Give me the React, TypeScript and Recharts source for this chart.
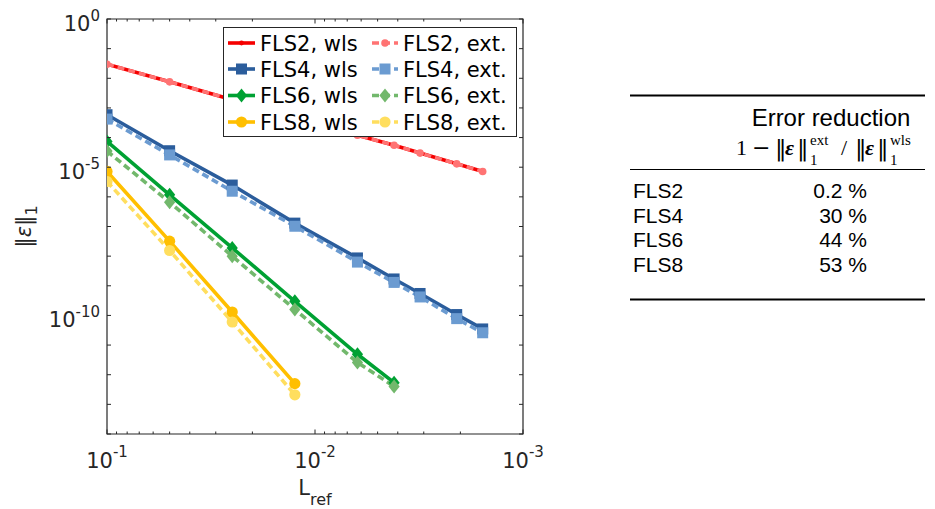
import { LineChart, Line, XAxis, YAxis, ReferenceArea, Legend } from 'recharts';

// reference lengths (grid spacing), shared by every series
const L_REF = [1 / 10, 1 / 20, 1 / 40, 1 / 80, 1 / 160, 1 / 240, 1 / 320, 1 / 480, 1 / 640];

// L1 error norms, wls = weighted least squares, ext = extended stencil
const FLS2_WLS = [3.0e-2, 7.6e-3, 1.9e-3, 4.8e-4, 1.2e-4, 5.5e-5, 3.0e-5, 1.3e-5, 7.2e-6];
const FLS2_EXT = [2.99e-2, 7.58e-3, 1.9e-3, 4.79e-4, 1.2e-4, 5.49e-5, 2.99e-5, 1.3e-5, 7.19e-6];
const FLS4_WLS = [5.9e-4, 3.6e-5, 2.5e-6, 1.3e-7, 8.7e-9, 1.7e-9, 5.5e-10, 1.07e-10, 3.5e-11];
const FLS4_EXT = [4.2e-4, 2.6e-5, 1.55e-6, 1.02e-7, 6.3e-9, 1.3e-9, 4.2e-10, 7.8e-11, 2.6e-11];
const FLS6_WLS = [7.4e-5, 1.17e-6, 1.9e-8, 3.0e-10, 4.9e-12, 5.4e-13];
const FLS6_EXT = [3.5e-5, 6.6e-7, 1.0e-8, 1.6e-10, 2.6e-12, 4.0e-13];
const FLS8_WLS = [7.2e-6, 3.2e-8, 1.3e-10, 5.0e-13];
const FLS8_EXT = [3.3e-6, 1.55e-8, 6.0e-11, 2.1e-13];

const X_MAJOR = [1e-1, 1e-2, 1e-3];
const X_TICKS = [
  1e-1, 0.09, 0.08, 0.07, 0.06, 0.05, 0.04, 0.03, 0.02,
  1e-2, 0.009, 0.008, 0.007, 0.006, 0.005, 0.004, 0.003, 0.002,
  1e-3,
];
const Y_TICKS = [1, 1e-1, 1e-2, 1e-3, 1e-4, 1e-5, 1e-6, 1e-7, 1e-8, 1e-9, 1e-10, 1e-11, 1e-12, 1e-13, 1e-14];
const Y_LABELED = [1, 1e-5, 1e-10];

// summary table
const METHODS = ['FLS2', 'FLS4', 'FLS6', 'FLS8'];
const REDUCTION = ['0.2 %', '30 %', '44 %', '53 %'];

const W = 560;
const H = 509;
const M_TOP = 19;
const M_RIGHT = 37;
const Y_AXIS_W = 107;
const X_AXIS_H = 75;
const PLOT_TOP = M_TOP;
const PLOT_BOTTOM = H - X_AXIS_H;
const PLOT_LEFT = Y_AXIS_W;
const PLOT_RIGHT = W - M_RIGHT;

const AXIS = '#262626';
const FONT = '"DejaVu Sans", sans-serif';
const LINE_W = 3.6;
const DASH = '7 4';

type Shape = 'point' | 'circle' | 'square' | 'diamond';

const Marker = ({ cx, cy, shape, color, small }: { cx: number; cy: number; shape: Shape; color: string; small?: boolean }) => {
  if (cx == null || cy == null) return null;
  if (shape === 'point') return <circle cx={cx} cy={cy} r={2.4} fill={color} />;
  if (shape === 'circle') return <circle cx={cx} cy={cy} r={small ? 3.8 : 5.6} fill={color} />;
  if (shape === 'square') return <rect x={cx - 5.5} y={cy - 5.5} width={11} height={11} fill={color} />;
  return <polygon points={`${cx},${cy - 7} ${cx + 5.6},${cy} ${cx},${cy + 7} ${cx - 5.6},${cy}`} fill={color} />;
};

const SERIES = [
  { name: 'FLS2, wls', values: FLS2_WLS, color: '#f50000', dash: undefined, shape: 'point' as Shape },
  { name: 'FLS2, ext.', values: FLS2_EXT, color: '#ff7373', dash: DASH, shape: 'circle' as Shape, small: true },
  { name: 'FLS4, wls', values: FLS4_WLS, color: '#2b5d9c', dash: undefined, shape: 'square' as Shape },
  { name: 'FLS4, ext.', values: FLS4_EXT, color: '#6b9bd1', dash: DASH, shape: 'square' as Shape },
  { name: 'FLS6, wls', values: FLS6_WLS, color: '#00a133', dash: undefined, shape: 'diamond' as Shape },
  { name: 'FLS6, ext.', values: FLS6_EXT, color: '#72b86c', dash: DASH, shape: 'diamond' as Shape },
  { name: 'FLS8, wls', values: FLS8_WLS, color: '#ffbf00', dash: undefined, shape: 'circle' as Shape },
  { name: 'FLS8, ext.', values: FLS8_EXT, color: '#ffde5e', dash: DASH, shape: 'circle' as Shape },
];

const seriesData = (values: number[]) => values.map((v, i) => ({ L: L_REF[i], err: v }));

const XTick = (props: any) => {
  const { x, payload } = props;
  const v = payload.value;
  const major = X_MAJOR.includes(v);
  const len = major ? 4.5 : 2.5;
  return (
    <g>
      <line x1={x} x2={x} y1={PLOT_BOTTOM} y2={PLOT_BOTTOM - len} stroke={AXIS} />
      <line x1={x} x2={x} y1={PLOT_TOP} y2={PLOT_TOP + len} stroke={AXIS} />
      {major && (
        <text x={x} y={468} textAnchor="middle" fontFamily={FONT} fontSize={21} fill={AXIS}>
          10
          <tspan dy={-11} fontSize={15}>{Math.round(Math.log10(v))}</tspan>
        </text>
      )}
    </g>
  );
};

const YTick = (props: any) => {
  const { y, payload } = props;
  const v = payload.value;
  return (
    <g>
      <line x1={PLOT_LEFT} x2={PLOT_LEFT + 4} y1={y} y2={y} stroke={AXIS} />
      <line x1={PLOT_RIGHT} x2={PLOT_RIGHT - 4} y1={y} y2={y} stroke={AXIS} />
      {Y_LABELED.includes(v) && (
        <text x={100} y={y + 12} textAnchor="end" fontFamily={FONT} fontSize={21} fill={AXIS}>
          10
          <tspan dy={-10} fontSize={15}>{Math.round(Math.log10(v))}</tspan>
        </text>
      )}
    </g>
  );
};

const XTitle = (props: any) => {
  const vb = props.viewBox || { x: PLOT_LEFT, y: PLOT_BOTTOM, width: PLOT_RIGHT - PLOT_LEFT };
  return (
    <text x={vb.x + vb.width / 2} y={vb.y + 61} textAnchor="middle" fontFamily={FONT} fontSize={21} fill={AXIS}>
      L<tspan dy={10} fontSize={16}>ref</tspan>
    </text>
  );
};

const YTitle = (props: any) => {
  const vb = props.viewBox || { y: PLOT_TOP, height: PLOT_BOTTOM - PLOT_TOP };
  const cy = vb.y + vb.height / 2;
  return (
    <text x={31} y={cy} transform={`rotate(-90 31 ${cy})`} textAnchor="middle" fontFamily={FONT} fontSize={21} fill={AXIS}>
      ‖<tspan fontStyle="italic">ε</tspan>‖<tspan dy={6} fontSize={16}>1</tspan>
    </text>
  );
};

const LegendBox = () => {
  const rows = [16, 42, 68.5, 95];
  const cols = [{ x0: 5, x1: 32, tx: 37 }, { x0: 149, x1: 175, tx: 180 }];
  return (
    <svg width={294} height={110} style={{ display: 'block' }}>
      <rect x={0.5} y={0.5} width={293} height={109} fill="#fff" stroke={AXIS} />
      {SERIES.map((s, i) => {
        const c = cols[i % 2];
        const y = rows[Math.floor(i / 2)];
        const mx = (c.x0 + c.x1) / 2;
        return (
          <g key={s.name}>
            <line x1={c.x0} x2={c.x1} y1={y} y2={y} stroke={s.color} strokeWidth={LINE_W} strokeDasharray={s.dash} />
            <Marker cx={mx} cy={y} shape={s.shape} color={s.color} small={s.small} />
            <text x={c.tx} y={y + 7.5} fontFamily={FONT} fontSize={21} fill="#000">{s.name}</text>
          </g>
        );
      })}
    </svg>
  );
};

// 1 − ‖ε‖₁^ext / ‖ε‖₁^wls, laid out piece by piece
const FORMULA = [
  { x: 736, y: 155, t: '1', s: 22 },
  { x: 752, y: 155, t: '−', s: 22, f: 'math' },
  { x: 775, y: 156, t: '‖', s: 23, f: 'bars' },
  { x: 785, y: 155, t: 'ε', s: 22, eps: true },
  { x: 797, y: 156, t: '‖', s: 23, f: 'bars' },
  { x: 810, y: 165, t: '1', s: 15 },
  { x: 810, y: 145, t: 'ext', s: 15 },
  { x: 841, y: 155, t: '/', s: 22 },
  { x: 855, y: 156, t: '‖', s: 23, f: 'bars' },
  { x: 865, y: 155, t: 'ε', s: 22, eps: true },
  { x: 877, y: 156, t: '‖', s: 23, f: 'bars' },
  { x: 890, y: 165, t: '1', s: 15 },
  { x: 890, y: 145, t: 'wls', s: 15 },
];

const ReductionTable = () => {
  const sans = '"Liberation Sans", Arial, sans-serif';
  const serif = '"Liberation Serif", "DejaVu Serif", serif';
  const rowY = [198, 222.5, 247, 271.5];
  return (
    <svg width={935} height={509} style={{ position: 'absolute', left: 0, top: 0, pointerEvents: 'none' }}>
      <line x1={630} x2={925} y1={95.5} y2={95.5} stroke="#000" strokeWidth={2} />
      <text x={831} y={126} textAnchor="middle" fontFamily={sans} fontSize={24} fill="#000">Error reduction</text>
      {FORMULA.map((p, i) => (
        <text
          key={i}
          x={p.x}
          y={p.y}
          fontFamily={p.f ? '"DejaVu Serif", serif' : serif}
          fontSize={p.s}
          fontWeight={p.eps ? 'bold' : 'normal'}
          fontStyle={p.eps ? 'italic' : 'normal'}
          fill="#000"
        >
          {p.t}
        </text>
      ))}
      <line x1={630} x2={925} y1={169.5} y2={169.5} stroke="#000" strokeWidth={1.2} />
      {METHODS.map((m, i) => (
        <g key={m}>
          <text x={633} y={rowY[i]} fontFamily={sans} fontSize={21} fill="#000">{m}</text>
          <text x={867} y={rowY[i]} textAnchor="end" fontFamily={sans} fontSize={21} fill="#000">{REDUCTION[i]}</text>
        </g>
      ))}
      <line x1={630} x2={925} y1={299.5} y2={299.5} stroke="#000" strokeWidth={2} />
    </svg>
  );
};

export default function App() {
  return (
    <div style={{ position: 'absolute', left: 0, top: 0, width: 935, height: 509, background: '#fff' }}>
      <LineChart width={W} height={H} margin={{ top: M_TOP, right: M_RIGHT, bottom: 0, left: 0 }}>
        <XAxis
          type="number"
          dataKey="L"
          scale="log"
          domain={[1e-3, 1e-1]}
          reversed
          allowDataOverflow
          ticks={X_TICKS}
          interval={0}
          tick={<XTick />}
          tickLine={false}
          axisLine={false}
          height={X_AXIS_H}
          label={<XTitle />}
        />
        <YAxis
          type="number"
          dataKey="err"
          scale="log"
          domain={[1e-14, 1]}
          allowDataOverflow
          ticks={Y_TICKS}
          interval={0}
          tick={<YTick />}
          tickLine={false}
          axisLine={false}
          width={Y_AXIS_W}
          label={<YTitle />}
        />
        <ReferenceArea x1={1e-1} x2={1e-3} y1={1e-14} y2={1} fill="none" stroke={AXIS} strokeWidth={1.2} fillOpacity={0} />
        {SERIES.map((s) => (
          <Line
            key={s.name}
            data={seriesData(s.values)}
            dataKey="err"
            name={s.name}
            type="linear"
            stroke={s.color}
            strokeWidth={LINE_W}
            strokeDasharray={s.dash}
            isAnimationActive={false}
            dot={(p: any) => <Marker key={`${s.name}-${p.index}`} cx={p.cx} cy={p.cy} shape={s.shape} color={s.color} small={s.small} />}
            activeDot={false}
          />
        ))}
        <Legend
          layout="vertical"
          align="center"
          verticalAlign="middle"
          content={() => <LegendBox />}
          wrapperStyle={{ left: 223, top: 27, width: 294, height: 110 }}
        />
      </LineChart>
      <ReductionTable />
    </div>
  );
}
